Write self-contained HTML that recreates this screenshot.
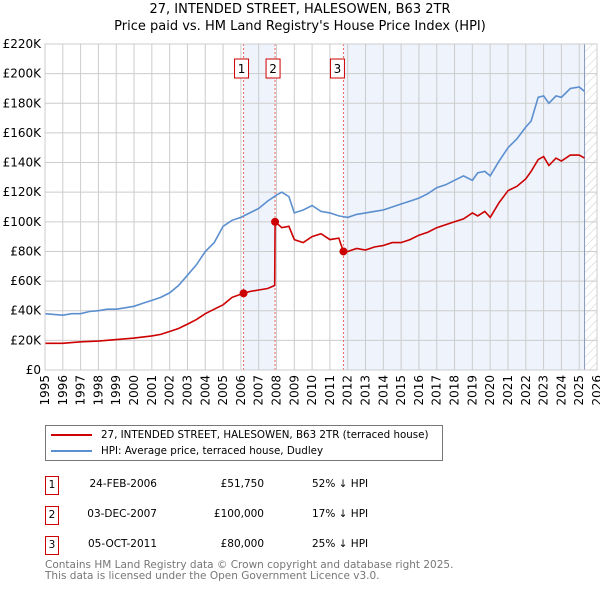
<!DOCTYPE html>
<html><head><meta charset="utf-8"><style>
body{margin:0;background:#fff;font-family:"DejaVu Sans","Liberation Sans",sans-serif;}
#wrap{position:relative;width:600px;height:590px;overflow:hidden;}
.t{position:absolute;font-size:10.5px;color:#000;white-space:nowrap;}
</style></head><body>
<div id="wrap">
<svg id="chart" width="600" height="420" style="position:absolute;left:0;top:0"></svg>
<div style="position:absolute;left:45px;top:425px;width:398px;height:36px;border:1px solid #777;box-sizing:border-box;">
 <div style="position:absolute;left:5px;top:3px;font-size:10.3px;white-space:nowrap"><span style="display:inline-block;width:41px;height:2px;background:#cc0000;vertical-align:middle;margin-right:9px"></span>27, INTENDED STREET, HALESOWEN, B63 2TR (terraced house)</div>
 <div style="position:absolute;left:5px;top:19px;font-size:10.3px;white-space:nowrap"><span style="display:inline-block;width:41px;height:2px;background:#5b8fd0;vertical-align:middle;margin-right:9px"></span>HPI: Average price, terraced house, Dudley</div>
</div>
<div id="table"></div>
<div class="t" style="left:45px;top:560px;color:#777;line-height:11px;font-size:10.5px">Contains HM Land Registry data © Crown copyright and database right 2025.<br>This data is licensed under the Open Government Licence v3.0.</div>
</div>
<script>
const salesDates=["24-FEB-2006","03-DEC-2007","05-OCT-2011"];
const salesYears=[2006.15,2007.92,2011.76];
const salesPrices=[51750,100000,80000];
const salesPct=["52% ↓ HPI","17% ↓ HPI","25% ↓ HPI"];
const hpiYears=[1995,1995.5,1996,1996.5,1997,1997.5,1998,1998.5,1999,1999.5,2000,2000.5,2001,2001.5,2002,2002.5,2003,2003.5,2004,2004.5,2005,2005.5,2006,2006.5,2007,2007.5,2008,2008.3,2008.7,2009,2009.5,2010,2010.5,2011,2011.5,2012,2012.5,2013,2013.5,2014,2014.5,2015,2015.5,2016,2016.5,2017,2017.5,2018,2018.5,2019,2019.3,2019.7,2020,2020.5,2021,2021.5,2022,2022.3,2022.7,2023,2023.3,2023.7,2024,2024.5,2025,2025.3];
const hpiValues=[38000,37500,37000,38000,38000,39500,40000,41000,41000,42000,43000,45000,47000,49000,52000,57000,64000,71000,80000,86000,97000,101000,103000,106000,109000,114000,118000,120000,117000,106000,108000,111000,107000,106000,104000,103000,105000,106000,107000,108000,110000,112000,114000,116000,119000,123000,125000,128000,131000,128000,133000,134000,131000,141000,150000,156000,164000,168000,184000,185000,180000,185000,184000,190000,191000,188000];
const ppYears=[1995,1996,1997,1998,1999,2000,2001,2001.5,2002,2002.5,2003,2003.5,2004,2004.5,2005,2005.5,2006.15,2006.5,2007,2007.5,2007.9,2007.92,2008.3,2008.7,2009,2009.5,2010,2010.5,2011,2011.5,2011.76,2012,2012.5,2013,2013.5,2014,2014.5,2015,2015.5,2016,2016.5,2017,2017.5,2018,2018.5,2019,2019.3,2019.7,2020,2020.5,2021,2021.5,2022,2022.3,2022.7,2023,2023.3,2023.7,2024,2024.5,2025,2025.3];
const ppValues=[18000,18000,19000,19500,20500,21500,23000,24000,26000,28000,31000,34000,38000,41000,44000,49000,51750,53000,54000,55000,57000,100000,96000,97000,88000,86000,90000,92000,88000,89000,80000,80000,82000,81000,83000,84000,86000,86000,88000,91000,93000,96000,98000,100000,102000,106000,104000,107000,103000,113000,121000,124000,129000,134000,142000,144000,138000,143000,141000,145000,145000,143000];
const yTicks=[0,20000,40000,60000,80000,100000,120000,140000,160000,180000,200000,220000];
const xTicks=[1995,1996,1997,1998,1999,2000,2001,2002,2003,2004,2005,2006,2007,2008,2009,2010,2011,2012,2013,2014,2015,2016,2017,2018,2019,2020,2021,2022,2023,2024,2025,2026];
const NS="http://www.w3.org/2000/svg";
const L=45,R=597,T=44,B=370;
const X=y=>L+(y-1995)*(R-L)/31;
const Y=v=>B-v*(B-T)/220000;
const svg=document.getElementById('chart');
function mk(tag,attrs,parent){const e=document.createElementNS(NS,tag);for(const k in attrs)e.setAttribute(k,attrs[k]);(parent||svg).appendChild(e);return e;}
let tt=mk('text',{x:300,y:13,'text-anchor':'middle','font-size':13,'font-family':'DejaVu Sans, sans-serif'});tt.textContent="27, INTENDED STREET, HALESOWEN, B63 2TR";


let st=mk('text',{x:300,y:30,'text-anchor':'middle','font-size':13,'font-family':'DejaVu Sans, sans-serif'});st.textContent="Price paid vs. HM Land Registry's House Price Index (HPI)";


let s1=mk('rect',{x:X(salesYears[0]),y:T,width:X(salesYears[1])-X(salesYears[0]),height:B-T,fill:'#eef3fc'});


let s2=mk('rect',{x:X(salesYears[2]),y:T,width:X(2025.3)-X(salesYears[2]),height:B-T,fill:'#eef3fc'});


const defs=mk('defs',{});
const pat=mk('pattern',{id:'h',width:6,height:6,patternUnits:'userSpaceOnUse',patternTransform:'rotate(45)'},defs);
mk('line',{x1:0,y1:0,x2:0,y2:6,stroke:'#ccc','stroke-width':1},pat);
let hz=mk('rect',{x:X(2025.3),y:T,width:R-X(2025.3),height:B-T,fill:'url(#h)'});


xTicks.forEach(t=>{mk('line',{x1:X(t),y1:T,x2:X(t),y2:B,stroke:'#ccc','stroke-width':1});
 let lb=mk('text',{x:0,y:0,'text-anchor':'end','font-size':12,'font-family':'DejaVu Sans, sans-serif',transform:`translate(${X(t)+4},${B+5}) rotate(-90)`});lb.textContent=t;
 
 });
yTicks.forEach(t=>{mk('line',{x1:L,y1:Y(t),x2:R,y2:Y(t),stroke:'#ccc','stroke-width':1});
 let lb=mk('text',{x:L-4,y:Y(t)+4,'text-anchor':'end','font-size':12,'font-family':'DejaVu Sans, sans-serif'});lb.textContent=t===0?'£0':'£'+(t/1000)+'K';
 
 });
mk('line',{x1:X(2025.3),y1:T,x2:X(2025.3),y2:B,stroke:'#8899bb','stroke-width':1});
salesYears.forEach((y,i)=>{mk('line',{x1:X(y),y1:T,x2:X(y),y2:B,stroke:'#ee6666','stroke-width':1,'stroke-dasharray':'2,2'});
 let g=mk('g',{});
 
 
 mk('rect',{x:X(y)-(i==2?13:9),y:T+15,width:14,height:19,fill:'#fff',stroke:'#cc0000'},g);
 let tx=mk('text',{x:X(y)-(i==2?6:2),y:T+29,'text-anchor':'middle','font-size':12,'font-family':'DejaVu Sans, sans-serif'},g);tx.textContent=i+1;});
function path(xs,vs,col,name){let d=xs.map((x,i)=>(i?'L':'M')+X(x).toFixed(1)+','+Y(vs[i]).toFixed(1)).join('');
 let p=mk('path',{d:d,fill:'none',stroke:col,'stroke-width':1.6});
 
 }
path(hpiYears,hpiValues,'#5b8fd0','hpi-line');
path(ppYears,ppValues,'#cc0000','price-paid-line');
salesYears.forEach((y,i)=>{let c=mk('circle',{cx:X(y),cy:Y(salesPrices[i]),r:4,fill:'#cc0000'});
 
 });
mk('rect',{x:L,y:T,width:R-L,height:B-T,fill:'none',stroke:'#ccc'});
const tb=document.getElementById('table');
salesDates.forEach((d,i)=>{const top=476+i*30;
 const row=document.createElement('div');
 
 
 row.innerHTML=`<div class="t" style="left:45px;top:${top}px;width:14px;height:19px;border:1px solid #cc0000;box-sizing:border-box;text-align:center;line-height:17px">${i+1}</div>
<div class="t" style="left:58px;top:${top+2}px;width:99px;text-align:right">${d}</div>
<div class="t" style="left:160px;top:${top+2}px;width:104px;text-align:right">£${salesPrices[i].toLocaleString('en-GB')}</div>
<div class="t" style="left:312px;top:${top+2}px">${salesPct[i]}</div>`;
 tb.appendChild(row);});
</script>
</body></html>
